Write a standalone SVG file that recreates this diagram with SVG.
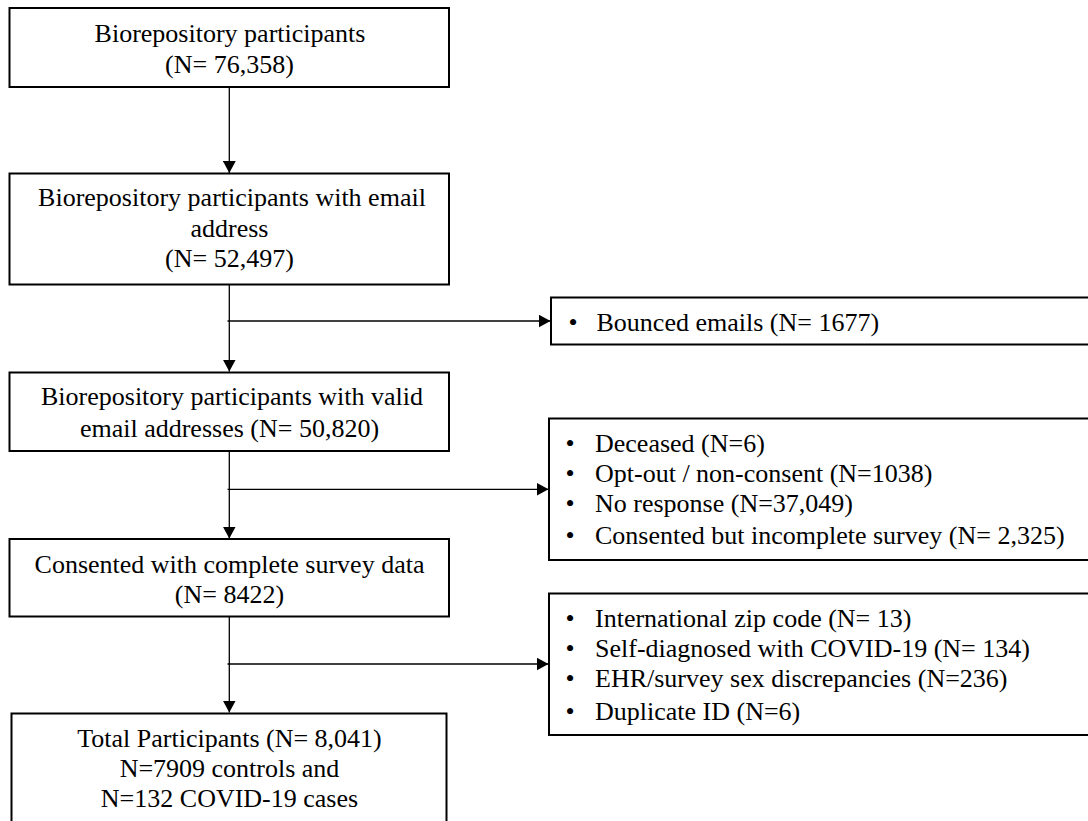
<svg xmlns="http://www.w3.org/2000/svg" width="1088" height="821" viewBox="0 0 1088 821">
<defs>
<style>
.box{fill:#fff;stroke:#000;stroke-width:2}
.t{font-family:"Liberation Serif","Times New Roman",serif;font-size:26px;fill:#000}
.c{text-anchor:middle}
.b{text-anchor:middle}
.ln{stroke:#000;stroke-width:1.3;fill:none}
</style>
<marker id="arr" markerWidth="12" markerHeight="13" refX="12" refY="6.5" orient="auto" markerUnits="userSpaceOnUse">
<path d="M0,0 L12,6.5 L0,13 Z" fill="#000"/>
</marker>
</defs>
<rect width="1088" height="821" fill="#fff"/>
<g id="connectors">
<line class="ln" x1="229.3" y1="87" x2="229.3" y2="173" marker-end="url(#arr)"/>
<line class="ln" x1="229.3" y1="284.5" x2="229.3" y2="371.5" marker-end="url(#arr)"/>
<line class="ln" x1="229.3" y1="451" x2="229.3" y2="538.5" marker-end="url(#arr)"/>
<line class="ln" x1="229.3" y1="617" x2="229.3" y2="712.5" marker-end="url(#arr)"/>
<line class="ln" x1="227.5" y1="321" x2="550.5" y2="321" marker-end="url(#arr)"/>
<line class="ln" x1="227.5" y1="489.3" x2="548.5" y2="489.3" marker-end="url(#arr)"/>
<line class="ln" x1="227.5" y1="664" x2="548.5" y2="664" marker-end="url(#arr)"/>
</g>
<g id="node1">
<rect class="box" x="9.5" y="8" width="439.5" height="79"/>
<text class="t c" x="230" y="42.3">Biorepository participants</text>
<text class="t c" x="229.5" y="72.5">(N= 76,358)</text>
</g>
<g id="node2">
<rect class="box" x="9.5" y="173.5" width="439.5" height="111"/>
<text class="t c" x="232" y="206">Biorepository participants with email</text>
<text class="t c" x="229.5" y="237">address</text>
<text class="t c" x="229.5" y="267">(N= 52,497)</text>
</g>
<g id="node3">
<rect class="box" x="9.5" y="372.5" width="439.5" height="78.5"/>
<text class="t c" x="232" y="405">Biorepository participants with valid</text>
<text class="t c" x="229.5" y="436.7">email addresses (N= 50,820)</text>
</g>
<g id="node4">
<rect class="box" x="9.5" y="539" width="439.5" height="77.5"/>
<text class="t c" x="229.5" y="572.7">Consented with complete survey data</text>
<text class="t c" x="229.5" y="602.7">(N= 8422)</text>
</g>
<g id="node5">
<rect class="box" x="11.5" y="713.5" width="435" height="120"/>
<text class="t c" x="229.5" y="746.7">Total Participants (N= 8,041)</text>
<text class="t c" x="229.5" y="776.7">N=7909 controls and</text>
<text class="t c" x="229.5" y="807.3">N=132 COVID-19 cases</text>
</g>
<g id="exclusion1">
<rect class="box" x="551" y="297.5" width="540" height="47"/>
<text class="t b" x="573" y="330.5">•</text>
<text class="t" x="596.5" y="330.5">Bounced emails (N= 1677)</text>
</g>
<g id="exclusion2">
<rect class="box" x="549" y="418.5" width="545" height="141.5"/>
<text class="t b" x="570" y="452.3">•</text>
<text class="t" x="595" y="452.3">Deceased (N=6)</text>
<text class="t b" x="570" y="481.7">•</text>
<text class="t" x="595" y="481.7">Opt-out / non-consent (N=1038)</text>
<text class="t b" x="570" y="511.7">•</text>
<text class="t" x="595" y="511.7">No response (N=37,049)</text>
<text class="t b" x="570" y="544.3">•</text>
<text class="t" x="595" y="544.3">Consented but incomplete survey (N= 2,325)</text>
</g>
<g id="exclusion3">
<rect class="box" x="549" y="593.5" width="545" height="141.5"/>
<text class="t b" x="570" y="626.7">•</text>
<text class="t" x="595" y="626.7">International zip code (N= 13)</text>
<text class="t b" x="570" y="656.7">•</text>
<text class="t" x="595" y="656.7">Self-diagnosed with COVID-19 (N= 134)</text>
<text class="t b" x="570" y="687.3">•</text>
<text class="t" x="595" y="687.3">EHR/survey sex discrepancies (N=236)</text>
<text class="t b" x="570" y="720">•</text>
<text class="t" x="595" y="720">Duplicate ID (N=6)</text>
</g>
</svg>
